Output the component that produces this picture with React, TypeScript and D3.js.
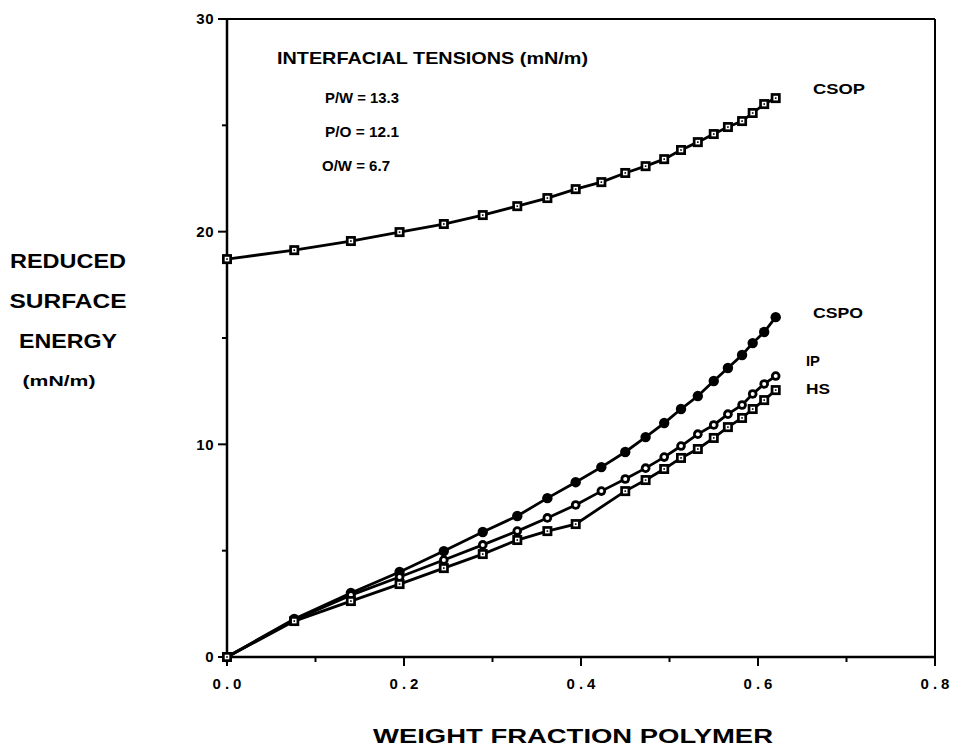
import React from "react";
import * as d3 from "d3";

// weight fraction polymer (shared abscissa)
const xVals = [0, 0.076, 0.140, 0.195, 0.245, 0.289, 0.328, 0.362, 0.394, 0.423, 0.450, 0.473, 0.494, 0.513, 0.532, 0.550, 0.566, 0.582, 0.594, 0.607, 0.620];

const csop = [18.71, 19.13, 19.56, 19.98, 20.36, 20.78, 21.2, 21.58, 22.0, 22.33, 22.76, 23.08, 23.41, 23.84, 24.21, 24.59, 24.92, 25.2, 25.58, 26.0, 26.28];
const cspo = [0, 1.79, 3.01, 4.0, 4.98, 5.88, 6.63, 7.47, 8.22, 8.93, 9.64, 10.34, 11.0, 11.66, 12.27, 12.98, 13.59, 14.2, 14.76, 15.28, 15.98];
const ip = [0, 1.74, 2.91, 3.76, 4.56, 5.27, 5.92, 6.54, 7.15, 7.8, 8.37, 8.88, 9.4, 9.92, 10.48, 10.91, 11.42, 11.85, 12.37, 12.84, 13.21];
// HS has no point at 0.423
const hsX = [0, 0.076, 0.140, 0.195, 0.245, 0.289, 0.328, 0.362, 0.394, 0.450, 0.473, 0.494, 0.513, 0.532, 0.550, 0.566, 0.582, 0.594, 0.607, 0.620];
const hs = [0, 1.69, 2.63, 3.43, 4.18, 4.84, 5.5, 5.92, 6.25, 7.8, 8.32, 8.84, 9.36, 9.78, 10.3, 10.81, 11.24, 11.66, 12.08, 12.55];

const xTicks = [0, 0.1, 0.2, 0.3, 0.4, 0.5, 0.6, 0.7, 0.8];
const yTicks = [0, 5, 10, 15, 20, 25, 30];
const tensions = ["P/W = 13.3", "P/O = 12.1", "O/W = 6.7"];

const W = 954;
const H = 747;
const font = "'Liberation Sans', Arial, Helvetica, sans-serif";

export default function App() {
  const x = d3.scaleLinear().domain([0, 0.8]).range([227, 935]);
  const y = d3.scaleLinear().domain([0, 30]).range([657, 19]);
  const line = d3
    .line<[number, number]>()
    .x((d) => x(d[0]))
    .y((d) => y(d[1]));

  const series = [
    { name: "CSOP", xs: xVals, ys: csop, marker: "square", label: [813, 94], len: 52 },
    { name: "CSPO", xs: xVals, ys: cspo, marker: "disc", label: [813, 318], len: 50 },
    { name: "IP", xs: xVals, ys: ip, marker: "ring", label: [806, 366], len: 14 },
    { name: "HS", xs: hsX, ys: hs, marker: "box", label: [806, 394], len: 24 },
  ];

  const marker = (kind: string, cx: number, cy: number, key: string) => {
    if (kind === "disc") return <circle key={key} cx={cx} cy={cy} r={5.2} fill="#000" />;
    if (kind === "ring")
      return (
        <g key={key}>
          <circle cx={cx} cy={cy} r={4.8} fill="#000" />
          <circle cx={cx} cy={cy} r={2} fill="#fff" />
        </g>
      );
    return (
      <g key={key}>
        <rect x={cx - 5} y={cy - 5} width={10} height={10} fill="#000" />
        <rect x={cx - 2.3} y={cy - 2.3} width={4.6} height={4.6} fill="#fff" />
        <rect x={cx - 0.8} y={cy - 0.8} width={1.6} height={1.6} fill="#000" />
      </g>
    );
  };

  return (
    <svg
      width={W}
      height={H}
      style={{ position: "absolute", left: 0, top: 0, background: "#fff" }}
      fontFamily={font}
    >
      {/* frame */}
      <line x1={x(0)} x2={x(0.8)} y1={y(30)} y2={y(30)} stroke="#000" strokeWidth={2} />
      <line x1={x(0.8)} x2={x(0.8)} y1={y(30)} y2={y(0)} stroke="#000" strokeWidth={2} />
      <line x1={x(0)} x2={x(0)} y1={y(30)} y2={y(0)} stroke="#000" strokeWidth={2.5} />
      <line x1={x(0)} x2={x(0.8)} y1={y(0)} y2={y(0)} stroke="#000" strokeWidth={2.5} />

      {/* y ticks */}
      {yTicks.map((t) => {
        const major = t % 10 === 0;
        return (
          <g key={"y" + t}>
            <line x1={x(0) - (major ? 9 : 5)} x2={x(0)} y1={y(t)} y2={y(t)} stroke="#000" strokeWidth={2} />
            {major && (
              <text x={x(0) - 13} y={y(t)} dy="0.36em" textAnchor="end" fontSize={15} fontWeight="bold" letterSpacing={0.5}>
                {t}
              </text>
            )}
          </g>
        );
      })}

      {/* x ticks */}
      {xTicks.map((t, i) => {
        const major = i % 2 === 0;
        return (
          <g key={"x" + t}>
            <line x1={x(t)} x2={x(t)} y1={y(0)} y2={y(0) + (major ? 9 : 5)} stroke="#000" strokeWidth={2} />
            {major && (
              <text x={x(t) + 2} y={y(0) + 32} textAnchor="middle" fontSize={15} fontWeight="bold" letterSpacing={4}>
                {t.toFixed(1)}
              </text>
            )}
          </g>
        );
      })}

      {/* curves */}
      {series.map((s) => (
        <g key={s.name}>
          <path
            d={line(s.xs.map((v, i) => [v, s.ys[i]] as [number, number])) || ""}
            fill="none"
            stroke="#000"
            strokeWidth={2.8}
          />
          {s.xs.map((v, i) => marker(s.marker, x(v), y(s.ys[i]), s.name + i))}
          <text x={s.label[0]} y={s.label[1]} fontSize={15} fontWeight="bold" textLength={s.len} lengthAdjust="spacingAndGlyphs">
            {s.name}
          </text>
        </g>
      ))}

      {/* annotation */}
      <text x={277} y={64} fontSize={17} fontWeight="bold" textLength={311} lengthAdjust="spacingAndGlyphs">
        INTERFACIAL TENSIONS (mN/m)
      </text>
      {tensions.map((t, i) => (
        <text key={t} x={i === 2 ? 322 : 325} y={103 + i * 34} fontSize={15} fontWeight="bold" textLength={i === 2 ? 68 : 74} lengthAdjust="spacingAndGlyphs">
          {t}
        </text>
      ))}

      {/* axis titles */}
      {[
        ["REDUCED", 116],
        ["SURFACE", 117],
        ["ENERGY", 98],
      ].map(([t, len], i) => (
        <text key={t as string} x={68} y={268 + i * 40} textAnchor="middle" fontSize={20} fontWeight="bold" textLength={len as number} lengthAdjust="spacingAndGlyphs">
          {t}
        </text>
      ))}
      <text x={59} y={386} textAnchor="middle" fontSize={15} fontWeight="bold" textLength={73} lengthAdjust="spacingAndGlyphs">
        (mN/m)
      </text>
      <text x={573} y={743} textAnchor="middle" fontSize={20} fontWeight="bold" textLength={400} lengthAdjust="spacingAndGlyphs">
        WEIGHT FRACTION POLYMER
      </text>
    </svg>
  );
}
